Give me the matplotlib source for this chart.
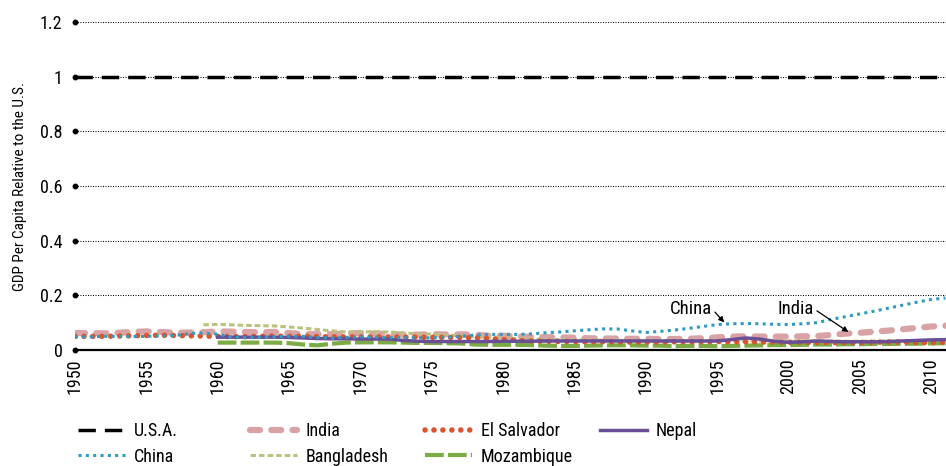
import matplotlib
matplotlib.use("Agg")
import matplotlib.pyplot as plt
from matplotlib import font_manager

# pick a condensed/narrow font if installed
cands = []
for f in font_manager.findSystemFonts():
    n = f.lower()
    if ('narrow' in n or 'condensed' in n) and 'bold' not in n and 'italic' not in n and 'oblique' not in n:
        cands.append(f)
chosen = None
pref = ['robotocondensed', 'liberationsansnarrow', 'opensans_condensed', 'opensanscondensed', 'dejavusanscondensed', 'notosans']
for p in pref:
    for f in cands:
        if p in f.lower().replace('-', '').replace(' ', '').replace('_', ''):
            chosen = f
            break
    if chosen:
        break
if chosen is None and cands:
    chosen = cands[0]
fam = 'DejaVu Sans'
if chosen:
    font_manager.fontManager.addfont(chosen)
    fam = font_manager.FontProperties(fname=chosen).get_name()
plt.rcParams['font.family'] = [fam, 'DejaVu Sans']

years_full = list(range(1950, 2012))
years_59 = list(range(1959, 2012))
years_60 = list(range(1960, 2012))

usa = [1.0] * len(years_full)

china = [.048, .048, .050, .050, .049, .050, .052, .053, .060, .062,
         .058, .047, .045, .046, .048, .050, .050, .046, .044, .046,
         .048, .047, .045, .045, .044, .045, .046, .050, .055, .057,
         .057, .057, .059, .063, .066, .070, .074, .077, .077, .070,
         .064, .068, .073, .079, .086, .093, .096, .097, .096, .094,
         .093, .096, .100, .112, .122, .132, .142, .153, .164, .175,
         .185, .190]

india = [.062, .062, .061, .063, .066, .068, .066, .063, .064, .065,
         .068, .067, .066, .065, .066, .062, .058, .058, .058, .060,
         .062, .060, .058, .056, .056, .058, .057, .057, .056, .052,
         .052, .050, .048, .047, .046, .045, .043, .042, .042, .041,
         .041, .040, .040, .041, .043, .046, .049, .050, .049, .049,
         .049, .050, .051, .055, .060, .063, .067, .071, .076, .081,
         .086, .089]

el_salvador = [.050, .050, .050, .051, .052, .053, .054, .053, .052, .051,
               .050, .049, .049, .050, .051, .050, .050, .049, .048, .048,
               .048, .048, .048, .047, .047, .046, .046, .046, .045, .042,
               .038, .035, .033, .032, .031, .031, .030, .030, .030, .029,
               .029, .029, .030, .030, .030, .031, .030, .030, .029, .029,
               .028, .028, .027, .027, .027, .027, .028, .029, .029, .027,
               .027, .028]

bangladesh = [.092, .094, .092, .090, .089, .088, .084, .080, .075, .070,
              .066, .066, .067, .066, .062, .060, .058, .055, .052, .048,
              .045, .043, .041, .040, .039, .038, .037, .036, .036, .035,
              .035, .034, .034, .034, .034, .034, .033, .033, .033, .033,
              .033, .033, .033, .033, .033, .032, .032, .033, .033, .034,
              .034, .035, .036]

nepal = [.047, .047, .047, .047, .047, .046, .044, .042, .041, .041,
         .040, .040, .040, .035, .032, .031, .031, .031, .031, .031,
         .032, .032, .032, .033, .033, .033, .033, .033, .033, .033,
         .033, .033, .033, .033, .033, .033, .038, .044, .040, .032,
         .028, .030, .033, .031, .030, .030, .030, .031, .033, .035,
         .037, .038]

mozambique = [.027, .027, .027, .027, .027, .025, .020, .017, .023, .027,
              .028, .028, .028, .027, .026, .026, .025, .024, .020, .019,
              .019, .019, .018, .016, .015, .015, .016, .017, .017, .017,
              .016, .016, .014, .015, .015, .014, .015, .016, .017, .018,
              .018, .019, .020, .020, .021, .021, .022, .022, .023, .023,
              .024, .025]

yticks = [0, 0.2, 0.4, 0.6, 0.8, 1.0, 1.2]
ytick_labels = ['0', '0.2', '0.4', '0.6', '0.8', '1', '1.2']
xticks = list(range(1950, 2011, 5))

fig = plt.figure(figsize=(9.46, 4.66), dpi=100)
ax = fig.add_axes([75 / 946, 116 / 466, 1 - 75 / 946, (350 - 22) / 466])
ax.set_xlim(1950, 2011.04)
ax.set_ylim(0, 1.2)

# gridlines with start dot
for yv in yticks[1:]:
    ax.axhline(yv, color='black', lw=0.75, ls=(0, (1, 1.4)), zorder=1)
for yv in yticks:
    ax.plot([1950], [yv], 'o', color='black', ms=3.2, clip_on=False, zorder=5)

c_china = '#2f9cbf'
c_india = '#d9a3a6'
c_els = '#d9552e'
c_nepal = '#6b4f96'
c_bang = '#bcc27e'
c_moz = '#7aab44'

l_india, = ax.plot(years_full, india, color=c_india, lw=4.5, dashes=(1.6, 1.8),
                   dash_capstyle='round', zorder=2.0, label='India')
l_bang, = ax.plot(years_59, bangladesh, color=c_bang, lw=2.2, dashes=(1.8, 1.0),
                  zorder=2.1, label='Bangladesh')
l_moz, = ax.plot(years_60, mozambique, color=c_moz, lw=3, dashes=(4.5, 1),
                 zorder=2.2, label='Mozambique')
l_els, = ax.plot(years_full, el_salvador, color=c_els, lw=4, dashes=(0.01, 1.6),
                 dash_capstyle='round', zorder=2.3, label='El Salvador')
l_nepal, = ax.plot(years_60, nepal, color=c_nepal, lw=2.5, zorder=2.4, label='Nepal')
l_china, = ax.plot(years_full, china, color=c_china, lw=2.2, dashes=(1, 1.4),
                   zorder=2.5, label='China')
l_usa, = ax.plot(years_full, usa, color='black', lw=2.5, dashes=(5, 2.6),
                 zorder=3, label='U.S.A.')

for s in ['top', 'right', 'left']:
    ax.spines[s].set_visible(False)
ax.spines['bottom'].set_linewidth(1.6)
ax.spines['bottom'].set_zorder(4)

ax.set_yticks(yticks)
ax.set_yticklabels(ytick_labels, fontsize=13)
ax.set_xticks(xticks)
ax.set_xticklabels([str(x) for x in xticks], rotation=90, fontsize=13)
ax.tick_params(axis='y', length=0, pad=9)
ax.tick_params(axis='x', length=0, pad=6)
ax.set_ylabel('GDP Per Capita Relative to the U.S.', fontsize=11, labelpad=9)

ax.annotate('China', xy=(1995.5, 0.101), xytext=(1994.65, 0.15),
            ha='right', va='center', fontsize=13.5,
            arrowprops=dict(arrowstyle='-|>', color='black', lw=0.9,
                            mutation_scale=8, relpos=(1, 0.5),
                            shrinkA=0, shrinkB=0))
ax.annotate('India', xy=(2004.2, 0.066), xytext=(2001.8, 0.15),
            ha='right', va='center', fontsize=13.5,
            arrowprops=dict(arrowstyle='-|>', color='black', lw=0.9,
                            mutation_scale=8, relpos=(1, 0.5),
                            shrinkA=0, shrinkB=0))

# legend: four columns placed at fixed positions
cols = [([l_usa, l_china], 78), ([l_india, l_bang], 250),
        ([l_els, l_moz], 425), ([l_nepal], 600)]
for handles, xpx in cols:
    leg = fig.legend(handles=handles, labels=[h.get_label() for h in handles],
                     loc='upper left', bbox_to_anchor=(xpx / 946, 1 - 422 / 466),
                     frameon=False, fontsize=13, handlelength=2.6,
                     handletextpad=0.5, labelspacing=0.43,
                     borderpad=0, borderaxespad=0)

fig.savefig('out.png', dpi=100)
